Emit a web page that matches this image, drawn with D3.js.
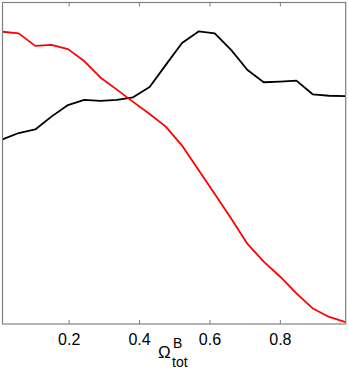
<!DOCTYPE html>
<html><head><meta charset="utf-8">
<script src="https://cdn.jsdelivr.net/npm/d3@7"></script>
<style>html,body{margin:0;padding:0;background:#fff;}svg{display:block;font-family:"Liberation Sans",Arial,sans-serif;}</style>
</head><body>
<svg id="c" width="349" height="371"></svg>
<script>
const xValues = [0.012, 0.058, 0.105, 0.151, 0.198, 0.244, 0.290, 0.337, 0.383, 0.430, 0.476, 0.522, 0.569, 0.615, 0.662, 0.708, 0.754, 0.801, 0.847, 0.894, 0.940, 0.987];
const redSeries = [0.909, 0.904, 0.865, 0.868, 0.855, 0.818, 0.767, 0.729, 0.691, 0.653, 0.614, 0.555, 0.479, 0.404, 0.327, 0.249, 0.194, 0.147, 0.095, 0.048, 0.022, 0.006];
const blackSeries = [0.574, 0.594, 0.605, 0.645, 0.681, 0.697, 0.694, 0.697, 0.705, 0.737, 0.806, 0.874, 0.910, 0.904, 0.852, 0.790, 0.752, 0.754, 0.757, 0.714, 0.710, 0.709];
const xTicks = [0.2, 0.4, 0.6, 0.8];

const svg = d3.select("#c");
const L = 2.5, R = 345.7, T = 2.5, B = 324;
const x = d3.scaleLinear().domain([0.012, 0.987]).range([L, R]);
const y = d3.scaleLinear().domain([0, 1]).range([B, T]);
const frame = "#808080";

// lines
const line = d3.line().x((d, i) => x(xValues[i])).y(d => y(d));
svg.append("path").datum(blackSeries).attr("d", line).attr("fill", "none").attr("stroke", "#000").attr("stroke-width", 1.8).attr("stroke-linejoin", "round");
svg.append("path").datum(redSeries).attr("d", line).attr("fill", "none").attr("stroke", "#ff0000").attr("stroke-width", 1.8).attr("stroke-linejoin", "round");

// frame
svg.append("rect").attr("x", L).attr("y", T).attr("width", R - L).attr("height", B - T).attr("fill", "none").attr("stroke", frame).attr("stroke-width", 1.2);

// bottom axis
const xb = d3.axisBottom(x).tickValues(xTicks).tickSize(-4).tickPadding(10).tickFormat(d3.format(".1f"));
const gb = svg.append("g").attr("transform", `translate(0,${B})`).call(xb);
gb.select(".domain").remove();
gb.selectAll("line").attr("stroke", frame);
gb.selectAll("text").attr("font-size", 16).attr("fill", "#000").attr("font-family", "Liberation Sans, Arial, sans-serif");

// top ticks
const xt = d3.axisTop(x).tickValues(xTicks).tickSize(-4).tickFormat("");
const gt = svg.append("g").attr("transform", `translate(0,${T})`).call(xt);
gt.select(".domain").remove();
gt.selectAll("line").attr("stroke", frame);

// x label
svg.append("text").attr("x", 158).attr("y", 358).attr("font-size", 17).attr("fill", "#000").text("Ω");
svg.append("text").attr("x", 173).attr("y", 348).attr("font-size", 14).attr("fill", "#000").text("B");
svg.append("text").attr("x", 172).attr("y", 367).attr("font-size", 14).attr("fill", "#000").text("tot");
</script>
</body></html>
